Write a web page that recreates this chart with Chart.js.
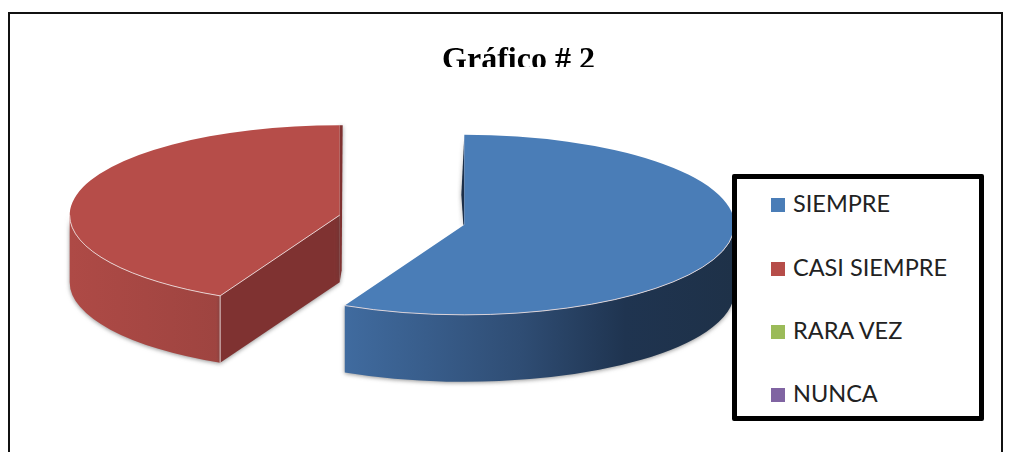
<!DOCTYPE html>
<html>
<head>
<meta charset="utf-8">
<script src="https://cdn.jsdelivr.net/npm/chart.js@4"></script>
<style>
  html, body { margin: 0; padding: 0; background: #fff; overflow: hidden; }
  #wrap { position: relative; width: 1011px; height: 452px; overflow: hidden; }
  #frame { position: absolute; left: 8px; top: 12px; width: 991px; height: 500px; border: 2px solid #111; }
  canvas { position: absolute; left: 0; top: 0; }
  #legend { position: absolute; left: 732px; top: 174px; width: 242px; height: 237px; border: 5px solid #000; border-radius: 2px; background: #fff; }
  .item { position: absolute; left: 34px; font: 23.5px Lato, sans-serif; color: #222; white-space: nowrap; line-height: 30px; }
  .item i { display: inline-block; width: 14px; height: 14px; margin-right: 8px; }
</style>
</head>
<body>
<div id="wrap">
  <div id="frame"></div>
  <canvas id="chart" width="1011" height="452"></canvas>
  <div id="legend"></div>
</div>
<script>
const categories = ['SIEMPRE', 'CASI SIEMPRE', 'RARA VEZ', 'NUNCA'];
const values = [57.3, 42.7, 0, 0];
const colors = ['#4a7db7', '#b64d49', '#9bbb59', '#8064a2'];

// look of the extruded pie
const CENTER_X = 402, CENTER_Y = 220;
const RX = 270, RY = 90, DEPTH = 67, EXPLODE = 64;
const walls = [
  { stops: [[0, '#406b9f'], [0.45, '#2f4d74'], [0.72, '#1f3450'], [1, '#1e3148']], cut: '#1c2f49' },
  { stops: [[0, '#ae4a46'], [1, '#9e4440']], cut: '#7f3231' }
];

function place(el) {
  const mid = (el.startAngle + el.endAngle) / 2;
  const cx = CENTER_X + Math.cos(mid) * EXPLODE;
  const cy = CENTER_Y + Math.sin(mid) * EXPLODE * RY / RX;
  const pt = a => [cx + Math.cos(a) * RX, cy + Math.sin(a) * RY];
  return { cx, cy, pt };
}

function drawWalls(ctx, el, i) {
  const { cx, cy, pt } = place(el);
  const from = Math.max(el.startAngle, 0), to = Math.min(el.endAngle, Math.PI);
  ctx.save();
  ctx.shadowColor = 'rgba(60,60,60,0.55)';
  ctx.shadowBlur = 4;
  ctx.shadowOffsetY = 1;
  // outer wall
  const a = pt(from), b = pt(to);
  const g = ctx.createLinearGradient(Math.min(a[0], b[0]), 0, Math.max(a[0], b[0]), 0);
  walls[i].stops.forEach(s => g.addColorStop(s[0], s[1]));
  ctx.fillStyle = g;
  ctx.beginPath();
  ctx.ellipse(cx, cy, RX, RY, 0, from, to);
  ctx.ellipse(cx, cy + DEPTH, RX, RY, 0, to, from, true);
  ctx.closePath();
  ctx.fill();
  ctx.fillStyle = walls[i].cut;
  // cut face, only the one looking towards the viewer
  if (el.startAngle > 0) {
    const p = pt(el.startAngle);
    ctx.beginPath();
    ctx.moveTo(cx, cy);
    ctx.lineTo(p[0], p[1]);
    ctx.lineTo(p[0], p[1] + DEPTH);
    ctx.lineTo(cx, cy + DEPTH);
    ctx.closePath();
    ctx.fill();
    // thin sliver of the back face, right of the red slice
    ctx.beginPath();
    ctx.moveTo(cx, cy - RY);
    ctx.lineTo(cx + 3, cy - RY);
    ctx.lineTo(cx + 2, cy + DEPTH - 12);
    ctx.lineTo(cx, cy + DEPTH);
    ctx.closePath();
    ctx.fill();
  } else {
    // same sliver on the left of the blue slice, only near the centre
    ctx.beginPath();
    ctx.moveTo(cx, cy - RY);
    ctx.lineTo(cx - 3, cy - 30);
    ctx.lineTo(cx - 1, cy);
    ctx.lineTo(cx, cy);
    ctx.closePath();
    ctx.fill();
  }
  ctx.restore();
}

function drawEdges(ctx, el) {
  const { cx, cy, pt } = place(el);
  const from = Math.max(el.startAngle, 0), to = Math.min(el.endAngle, Math.PI);
  ctx.save();
  ctx.strokeStyle = 'rgba(240,225,225,0.85)';
  ctx.lineWidth = 1;
  ctx.beginPath();
  ctx.ellipse(cx, cy, RX, RY, 0, from, to);
  ctx.stroke();
  if (el.startAngle > 0) {
    const p = pt(el.startAngle);
    ctx.beginPath();
    ctx.moveTo(cx, cy);
    ctx.lineTo(p[0], p[1]);
    ctx.lineTo(p[0], p[1] + DEPTH);
    ctx.stroke();
  }
  ctx.restore();
}

const pie3d = {
  id: 'pie3d',
  // draws the arcs itself, flattened and pulled apart, so the normal draw is cancelled
  beforeDatasetDraw(chart, args) {
    const ctx = chart.ctx;
    chart.getDatasetMeta(args.index).data.forEach((el, i) => {
      if (!(el.circumference > 0)) return;
      drawWalls(ctx, el, i);
      const { cx, cy } = place(el);
      ctx.save();
      ctx.translate(cx, cy);
      ctx.scale(RX / el.outerRadius, RY / el.outerRadius);
      ctx.translate(-el.x, -el.y);
      el.draw(ctx);
      ctx.restore();
      drawEdges(ctx, el);
    });
    return false;
  },
  afterDraw(chart) {
    // the scan cuts the bottom of the title off
    chart.ctx.fillStyle = '#fff';
    chart.ctx.fillRect(430, 67, 180, 6);
  }
};

new Chart(document.getElementById('chart'), {
  type: 'pie',
  plugins: [pie3d],
  data: {
    labels: categories,
    datasets: [{
      data: values,
      backgroundColor: colors,
      borderWidth: 0
    }]
  },
  options: {
    responsive: false,
    animation: false,
    layout: { padding: { left: 26 } },
    plugins: {
      legend: { display: false },
      tooltip: { enabled: false },
      title: {
        display: true,
        text: 'Gráfico # 2',
        color: '#000',
        font: { family: '"Liberation Serif"', size: 32, weight: 'bold' },
        padding: { top: 42, bottom: 10 }
      }
    }
  }
});

// legend on the right, thick black box
const legend = document.getElementById('legend');
const rows = [9, 73, 136, 199];
categories.forEach((name, i) => {
  const row = document.createElement('div');
  row.className = 'item';
  row.style.top = rows[i] + 'px';
  const swatch = document.createElement('i');
  swatch.style.background = colors[i];
  row.appendChild(swatch);
  row.appendChild(document.createTextNode(name));
  legend.appendChild(row);
});
</script>
</body>
</html>
